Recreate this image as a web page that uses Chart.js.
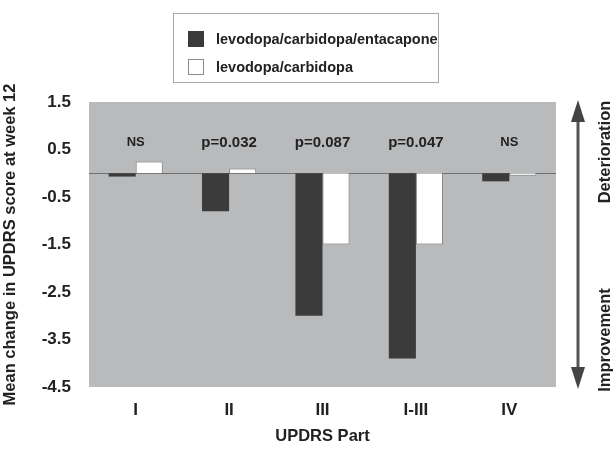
<!DOCTYPE html>
<html>
<head>
<meta charset="utf-8">
<script src="https://cdn.jsdelivr.net/npm/chart.js@4.4.1/dist/chart.umd.min.js"></script>
<style>
  html, body { margin: 0; padding: 0; background: #fff; }
  #wrap { width: 616px; height: 450px; }
</style>
</head>
<body>
<div id="wrap"><canvas id="updrs" width="616" height="450"></canvas></div>
<script>
"use strict";

// UPDRS parts on the x axis
var parts = ["I", "II", "III", "I-III", "IV"];

// mean change at week 12, per treatment
var lce = [-0.07, -0.8, -3.0, -3.9, -0.17];
var lc = [0.25, 0.1, -1.5, -1.5, -0.05];

// significance shown above each group
var pLabels = ["NS", "p=0.032", "p=0.087", "p=0.047", "NS"];

var seriesNames = ["levodopa/carbidopa/entacapone", "levodopa/carbidopa"];

var FONT = "'Liberation Sans', Arial, Helvetica, sans-serif";

// Gray plot background, zero line, p-values, side arrow and legend
var decor = {
    id: "decor",
    beforeDatasetsDraw: function (chart) {
        var c = chart.ctx, a = chart.chartArea, y = chart.scales.y;
        c.save();
        c.fillStyle = "#b9babc";
        c.fillRect(a.left, a.top, a.right - a.left, a.bottom - a.top);
        var y0 = Math.round(y.getPixelForValue(0)) + 0.5;
        c.strokeStyle = "#707070";
        c.lineWidth = 1;
        c.beginPath();
        c.moveTo(a.left, y0);
        c.lineTo(a.right, y0);
        c.stroke();
        c.restore();
    },
    afterDraw: function (chart) {
        var c = chart.ctx, a = chart.chartArea, x = chart.scales.x, y = chart.scales.y;
        c.save();

        // p-values
        c.fillStyle = "#222";
        c.textAlign = "center";
        c.textBaseline = "middle";
        pLabels.forEach(function (t, i) {
            c.font = (t === "NS" ? "bold 13px " : "bold 15px ") + FONT;
            c.fillText(t, x.getPixelForValue(i), y.getPixelForValue(0.65));
        });

        // double arrow on the right
        var ax = a.right + 22;
        c.strokeStyle = "#555";
        c.fillStyle = "#444";
        c.lineWidth = 3;
        c.beginPath();
        c.moveTo(ax, a.top + 14);
        c.lineTo(ax, a.bottom - 14);
        c.stroke();
        c.beginPath();
        c.moveTo(ax, a.top - 2);
        c.lineTo(ax - 7, a.top + 20);
        c.lineTo(ax + 7, a.top + 20);
        c.closePath();
        c.fill();
        c.beginPath();
        c.moveTo(ax, a.bottom + 2);
        c.lineTo(ax - 7, a.bottom - 20);
        c.lineTo(ax + 7, a.bottom - 20);
        c.closePath();
        c.fill();

        c.fillStyle = "#222";
        c.font = "bold 16.5px " + FONT;
        c.textAlign = "center";
        c.textBaseline = "middle";
        c.translate(605, 0);
        c.rotate(-Math.PI / 2);
        c.fillText("Deterioration", -152, 0);
        c.fillText("Improvement", -340, 0);
        c.setTransform(1, 0, 0, 1, 0, 0);

        // legend box
        c.strokeStyle = "#a8a8a8";
        c.lineWidth = 1;
        c.strokeRect(173.5, 13.5, 265, 69);
        c.font = "bold 14.5px " + FONT;
        c.textAlign = "left";
        chart.data.datasets.forEach(function (ds, i) {
            var ry = 31 + i * 28;
            c.fillStyle = ds.backgroundColor;
            c.fillRect(188, ry, 16, 16);
            c.strokeStyle = ds.borderColor;
            c.strokeRect(188.5, ry + 0.5, 15, 15);
            c.fillStyle = "#222";
            c.fillText(ds.label, 216, ry + 9);
        });
        c.restore();
    }
};

new Chart(document.getElementById("updrs").getContext("2d"), {
    type: "bar",
    data: {
        labels: parts,
        datasets: [{
            label: seriesNames[0],
            data: lce,
            backgroundColor: "#3b3b3b",
            borderColor: "#3b3b3b",
            borderWidth: 0
        }, {
            label: seriesNames[1],
            data: lc,
            backgroundColor: "#ffffff",
            borderColor: "#8a8a8a",
            borderWidth: 1
        }]
    },
    options: {
        responsive: false,
        animation: false,
        categoryPercentage: 0.58,
        barPercentage: 1,
        layout: { padding: { top: 102, right: 60, left: 0, bottom: 0 } },
        plugins: {
            legend: { display: false },
            tooltip: { enabled: false }
        },
        scales: {
            x: {
                grid: { display: false, drawTicks: false },
                border: { display: false },
                ticks: { color: "#222", font: { family: FONT, size: 17, weight: "bold" }, padding: 13 },
                title: {
                    display: true,
                    text: "UPDRS Part",
                    color: "#222",
                    font: { family: FONT, size: 16.5, weight: "bold" },
                    padding: { top: 12 }
                },
                afterFit: function (s) { s.height = 63; }
            },
            y: {
                min: -4.5,
                max: 1.5,
                grid: { display: false, drawTicks: false },
                border: { display: false },
                ticks: {
                    stepSize: 1,
                    color: "#222",
                    padding: 18,
                    font: { family: FONT, size: 17, weight: "bold" },
                    callback: function (v) { return v.toFixed(1); }
                },
                title: {
                    display: true,
                    text: "Mean change in UPDRS score at week 12",
                    color: "#222",
                    font: { family: FONT, size: 16.5, weight: "bold" },
                    padding: { top: 1, bottom: 0 }
                },
                afterFit: function (s) { s.width = 89; }
            }
        }
    },
    plugins: [decor]
});
</script>
</body>
</html>
